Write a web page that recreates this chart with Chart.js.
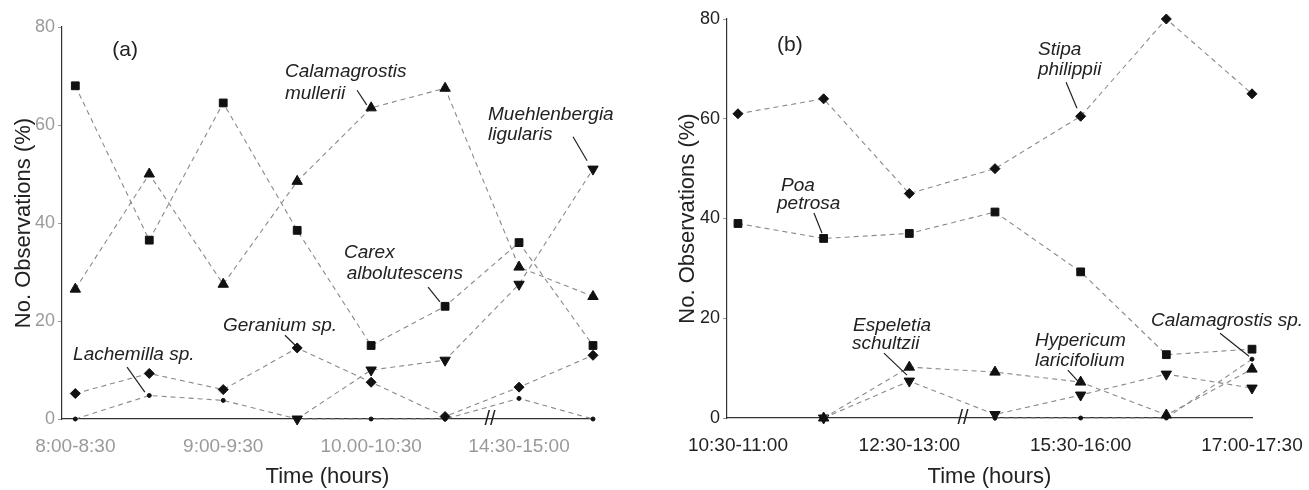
<!DOCTYPE html>
<html>
<head>
<meta charset="utf-8">
<script src="https://cdn.jsdelivr.net/npm/chart.js@4.4.1/dist/chart.umd.min.js"></script>
<style>
  html, body { margin: 0; padding: 0; background: #fff; }
  #wrap { position: relative; width: 1309px; height: 490px; }
  .panel { position: absolute; top: 0; height: 490px; }
  #panelA { left: 0; width: 654px; }
  #panelB { left: 654px; width: 655px; }
</style>
</head>
<body>
<div id="wrap">
  <div class="panel" id="panelA"><canvas id="chartA"></canvas></div>
  <div class="panel" id="panelB"><canvas id="chartB"></canvas></div>
</div>
<script>
// panel (a)
const timesA = ['8:00-8:30', '', '9:00-9:30', '', '10.00-10:30', '', '14:30-15:00', ''];
const carexA = [68, 36.5, 64.5, 38.5, 15, 23, 36, 15];
const calamagrostisA = [26.5, 50, 27.5, 48.5, 63.5, 67.5, 31, 25];
const muehlenbergiaA = [null, null, null, 0, 10, 12, 27.5, 51];
const geraniumA = [5.2, 9.3, 6, 14.5, 7.5, 0.5, 6.5, 13];
const lachemillaA = [0, 4.8, 3.8, 0, 0, 0, 4.2, 0];

// panel (b)
const timesB = ['10:30-11:00', '', '12:30-13:00', '', '15:30-16:00', '', '17:00-17:30'];
const stipaB = [61, 64, 45, 50, 60.5, 80, 65];
const poaB = [39, 36, 37, 41.3, 29.3, 12.7, 13.8];
const hypericumB = [null, 0, 10.2, 9.2, 7.2, 0.6, 9.8];
const espeletiaB = [null, 0, 7.4, 0.7, 4.6, 8.8, 6];
const calamagrostisB = [null, null, null, 0, 0, 0, 11.8];

const yTicks = [0, 20, 40, 60, 80];

// species labels, leader lines and axis breaks (in data units)
const notesA = [
  ['(a)', 0.5, 75.3, false],
  ['Calamagrostis', 2.835, 70.8, true],
  ['mullerii', 2.835, 66.3, true],
  ['Muehlenbergia', 5.58, 62.0, true],
  ['ligularis', 5.58, 58.0, true],
  ['Carex', 3.633, 33.9, true],
  ['albolutescens', 3.67, 29.6, true],
  ['Geranium sp.', 1.997, 19.0, true],
  ['Lachemilla sp.', -0.03, 13.1, true]
];
const leadersA = [
  [3.81, 67.1, 3.94, 64.1],
  [6.73, 57.6, 6.92, 52.7],
  [4.77, 26.9, 4.93, 23.9],
  [2.835, 17.1, 2.97, 15.1],
  [0.70, 10.6, 0.94, 5.5]
];
const breaksA = [5.607];

const notesB = [
  ['(b)', 0.456, 74.7, false],
  ['Stipa', 3.502, 73.9, true],
  ['philippii', 3.502, 69.9, true],
  ['Poa', 0.502, 46.5, true],
  ['petrosa', 0.456, 42.9, true],
  ['Espeletia', 1.343, 18.6, true],
  ['schultzii', 1.33, 14.8, true],
  ['Hypericum', 3.467, 15.4, true],
  ['laricifolium', 3.467, 11.4, true],
  ['Calamagrostis sp.', 4.821, 19.6, true]
];
const leadersB = [
  [3.83, 67.3, 3.957, 62.1],
  [0.887, 41.1, 0.98, 37.1],
  [1.704, 13.0, 1.973, 8.6],
  [3.85, 9.6, 3.99, 7.0],
  [5.627, 17.0, 5.965, 12.4]
];
const breaksB = [2.627];

const family = "'Liberation Sans', Arial, sans-serif";

function series(label, values, style, radius, rotation) {
  return {
    label: label,
    data: values.map((v, i) => ({ x: i, y: v })),
    borderColor: '#8a8a8a',
    borderWidth: 1.1,
    borderDash: [5, 4],
    pointStyle: style,
    pointRadius: radius,
    pointRotation: rotation || 0,
    pointBackgroundColor: '#111',
    pointBorderColor: '#111',
    pointBorderWidth: 1,
    tension: 0,
    clip: false
  };
}

function annotations(notes, leaders, breaks) {
  return {
    id: 'annotations',
    afterDatasetsDraw(chart) {
      const { ctx } = chart;
      const x = chart.scales.x, y = chart.scales.y;
      ctx.save();
      ctx.fillStyle = '#222';
      ctx.textBaseline = 'middle';
      ctx.textAlign = 'left';
      notes.forEach(([text, nx, ny, italic]) => {
        ctx.font = italic ? 'italic 19px ' + family : '21px ' + family;
        ctx.fillText(text, x.getPixelForValue(nx), y.getPixelForValue(ny));
      });
      ctx.strokeStyle = '#222';
      ctx.lineWidth = 1.2;
      leaders.forEach(([x1, y1, x2, y2]) => {
        ctx.beginPath();
        ctx.moveTo(x.getPixelForValue(x1), y.getPixelForValue(y1));
        ctx.lineTo(x.getPixelForValue(x2), y.getPixelForValue(y2));
        ctx.stroke();
      });
      ctx.font = '20px ' + family;
      ctx.textAlign = 'center';
      breaks.forEach(b => {
        ctx.fillText('//', x.getPixelForValue(b), y.getPixelForValue(0));
      });
      ctx.restore();
    }
  };
}

function makeOptions(cfg) {
  return {
    responsive: true,
    maintainAspectRatio: false,
    animation: false,
    layout: { padding: { left: 0, top: cfg.top, right: cfg.right, bottom: 0 } },
    plugins: { legend: { display: false }, tooltip: { enabled: false } },
    scales: {
      x: {
        type: 'linear',
        min: cfg.xMin,
        max: cfg.labels.length - 1,
        afterFit: s => {
          s.height = cfg.xHeight;
          // let the layout padding alone decide the plot edges
          s.paddingLeft = 0;
          s.paddingRight = 0;
        },
        afterBuildTicks: s => { s.ticks = cfg.labels.map((_, i) => ({ value: i })); },
        grid: { display: false, drawTicks: false },
        border: { display: true, color: '#333', width: 1.2 },
        ticks: {
          autoSkip: false, maxRotation: 0, padding: 16,
          color: cfg.tickColor, font: { family: family, size: 19 },
          callback: v => cfg.labels[v] ?? ''
        },
        title: {
          display: true, text: 'Time (hours)', color: '#222',
          font: { family: family, size: 22 }, padding: { top: 0, bottom: 0 }
        }
      },
      y: {
        min: 0,
        max: 80,
        afterFit: s => { s.width = cfg.yWidth; },
        afterBuildTicks: s => { s.ticks = yTicks.map(v => ({ value: v })); },
        grid: { drawOnChartArea: false, tickLength: 4, color: '#999' },
        border: { display: true, color: '#333', width: 1.2 },
        ticks: { padding: 3, color: cfg.tickColor, font: { family: family, size: 18 } },
        title: {
          display: true, text: 'No. Observations (%)', color: '#222',
          font: { family: family, size: 22 }, padding: { top: cfg.yTitlePad, bottom: 0 }
        }
      }
    }
  };
}

new Chart(document.getElementById('chartA'), {
  type: 'line',
  data: {
    datasets: [
      series('Carex albolutescens', carexA, 'rect', 5.5),
      series('Calamagrostis mullerii', calamagrostisA, 'triangle', 6),
      series('Muehlenbergia ligularis', muehlenbergiaA, 'triangle', 6, 180),
      series('Geranium sp.', geraniumA, 'rectRot', 5),
      series('Lachemilla sp.', lachemillaA, 'circle', 2)
    ]
  },
  options: makeOptions({
    labels: timesA, xMin: -0.18, top: 27, right: 61, xHeight: 71, yWidth: 62,
    yTitlePad: 11, tickColor: '#9a9a9a'
  }),
  plugins: [annotations(notesA, leadersA, breaksA)]
});

new Chart(document.getElementById('chartB'), {
  type: 'line',
  data: {
    datasets: [
      series('Stipa philippii', stipaB, 'rectRot', 5),
      series('Poa petrosa', poaB, 'rect', 5.5),
      series('Hypericum laricifolium', hypericumB, 'triangle', 6),
      series('Espeletia schultzii', espeletiaB, 'triangle', 6, 180),
      series('Calamagrostis sp.', calamagrostisB, 'circle', 2)
    ]
  },
  options: makeOptions({
    labels: timesB, xMin: -0.128, top: 19, right: 57, xHeight: 72, yWidth: 73,
    yTitlePad: 21, tickColor: '#222'
  }),
  plugins: [annotations(notesB, leadersB, breaksB)]
});
</script>
</body>
</html>
